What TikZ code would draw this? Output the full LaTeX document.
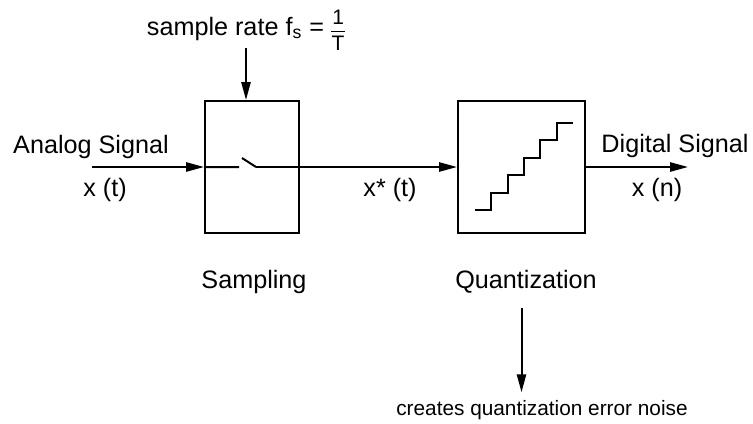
\documentclass[tikz,border=0pt]{standalone}
\usepackage{fontspec}
\setmainfont{Liberation Sans}
\usepackage{tikz}
\usetikzlibrary{arrows.meta}
\newcommand{\ratefrac}[2]{\raisebox{-7.5pt}{\fontsize{10.5}{11}\selectfont
  \vbox{\offinterlineskip\hbox to 7pt{\hfil#1\hfil}\kern3pt\hrule height 0.8pt\kern1.6pt\hbox to 7pt{\hfil#2\hfil}}}}
\tikzset{
  sig/.style={-{Triangle[length=9pt,width=4.6pt]}},
  blk/.style={draw,inner sep=0pt,minimum height=66pt}
}

\begin{document}
\begin{tikzpicture}[x=0.5pt,y=-0.5pt,line width=1pt,font=\fontsize{12.6}{15}\selectfont]
  \useasboundingbox (0,0) rectangle (753,423);
  \node[blk,minimum width=47pt] (samp) at (252,167) {};
  \node[blk,minimum width=63.5pt] (quant) at (521.5,167) {};
  \coordinate (in) at (92,167);
  \coordinate (out) at (688,167);
  \coordinate (sw0) at (239,167);
  \coordinate (sw1) at (242,158);
  \coordinate (sw2) at (256,167);
  \draw[sig] (in) -- (samp.west);
  \draw (samp.west) -- (sw0) (sw1) -- (sw2);
  \draw[sig] (sw2) -- (quant.west);
  \draw[sig] (quant.east) -- (out);
  \draw (475,210) foreach \i in {1,...,5} {-- ++(16.33,0) -- ++(0,-17.4)} -- ++(16.33,0);
  \node[anchor=base] (rate) at (246,35) {sample rate f\textsubscript{s} = \ratefrac{1}{T}};
  \draw[sig] ([yshift=-6.5pt]rate.base) -- (rate.base |- samp.north);
  \node[anchor=base] (analog) at (91,153) {Analog Signal};
  \node[anchor=base] (xt) at (105,196) {x (t)};
  \node[anchor=base] (xst) at (390,196) {x* (t)};
  \node[anchor=base] (digital) at (675,152) {Digital Signal};
  \node[anchor=base] (xn) at (657,196) {x (n)};
  \node[anchor=base] (samplab) at (254,288) {Sampling};
  \node[anchor=base] (quantlab) at (526,288) {Quantization};
  \node[anchor=base,font=\fontsize{10.4}{12}\selectfont] (noise) at (542,415) {creates quantization error noise};
  \draw[sig] ([yshift=-4pt]quantlab.south -| quant.south) -- (noise.north -| quant.south);
\end{tikzpicture}
\end{document}
